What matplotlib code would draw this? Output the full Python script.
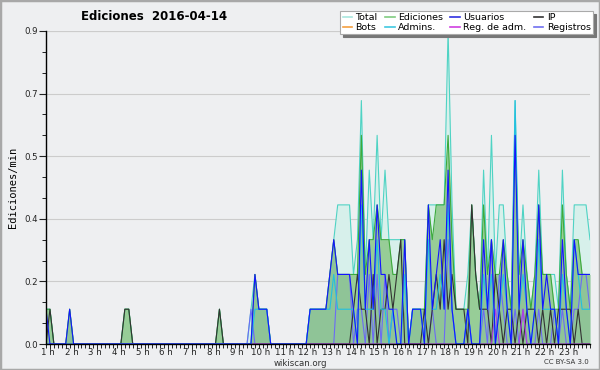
import numpy as np
import matplotlib
matplotlib.use("Agg")
import matplotlib.pyplot as plt
from matplotlib.lines import Line2D
from matplotlib.patches import Rectangle

# edits per 10 minutes, from 1 h to 24 h (one row = 4 hours)
total = [1,1,0,0,0,0, 1,0,0,0,0,0, 0,0,0,0,0,0, 0,0,1,1,0,0,
         0,0,0,0,0,0, 0,0,0,0,0,0, 0,0,0,0,0,0, 0,0,1,0,0,0,
         0,0,0,0,1,2, 1,1,1,0,0,0, 0,0,0,0,0,0, 0,1,1,1,1,1,
         2,3,4,4,4,4, 2,3,7,2,5,3, 6,3,5,3,3,3, 3,3,0,1,1,1,
         1,4,4,4,4,4, 9,4,1,1,1,2, 4,2,1,5,2,6, 2,4,4,2,1,7,
         2,4,2,1,2,5, 2,2,2,2,1,5, 2,1,4,4,4,4, 3]
ediciones = [1,1,0,0,0,0, 1,0,0,0,0,0, 0,0,0,0,0,0, 0,0,1,1,0,0,
             0,0,0,0,0,0, 0,0,0,0,0,0, 0,0,0,0,0,0, 0,0,1,0,0,0,
             0,0,0,0,0,2, 1,1,1,0,0,0, 0,0,0,0,0,0, 0,1,1,1,1,1,
             2,3,2,2,2,2, 2,2,6,2,3,3, 4,3,3,3,2,2, 3,3,0,1,1,1,
             1,4,3,4,4,4, 6,3,1,1,1,1, 4,2,1,4,2,3, 2,2,3,2,1,6,
             2,3,2,1,2,4, 2,2,2,1,1,4, 2,1,3,3,2,2, 2]
usuarios = [1,0,0,0,0,0, 1,0,0,0,0,0, 0,0,0,0,0,0, 0,0,0,0,0,0,
            0,0,0,0,0,0, 0,0,0,0,0,0, 0,0,0,0,0,0, 0,0,0,0,0,0,
            0,0,0,0,0,2, 1,1,1,0,0,0, 0,0,0,0,0,0, 0,1,1,1,1,1,
            2,3,2,2,2,2, 1,0,5,1,3,1, 4,2,2,1,1,0, 0,3,0,1,1,1,
            0,4,1,2,3,1, 5,1,0,0,0,1, 0,0,0,3,1,3, 0,1,3,1,0,6,
            1,3,1,0,1,4, 1,2,1,1,0,3, 1,0,3,2,2,2, 2]
ip = [0,1,0,0,0,0, 0,0,0,0,0,0, 0,0,0,0,0,0, 0,0,1,1,0,0,
      0,0,0,0,0,0, 0,0,0,0,0,0, 0,0,0,0,0,0, 0,0,1,0,0,0,
      0,0,0,0,0,0, 0,0,0,0,0,0, 0,0,0,0,0,0, 0,0,0,0,0,0,
      0,0,0,0,0,0, 1,2,1,1,0,2, 0,1,1,2,1,2, 3,0,0,0,0,0,
      1,0,1,2,1,3, 1,2,1,1,1,0, 4,2,1,1,1,0, 2,1,0,1,1,0,
      1,0,1,1,1,0, 1,0,1,0,1,1, 1,1,0,1,0,0, 0]
bots = [0] * 139
admins = [0,0,0,0,0,0, 0,0,0,0,0,0, 0,0,0,0,0,0, 0,0,0,0,0,0,
          0,0,0,0,0,0, 0,0,0,0,0,0, 0,0,0,0,0,0, 0,0,0,0,0,0,
          0,0,0,0,0,1, 1,1,1,0,0,0, 0,0,0,0,0,0, 0,1,1,1,1,1,
          1,2,1,1,1,1, 1,0,4,1,1,1, 3,1,1,0,1,0, 0,2,0,1,1,1,
          0,3,1,1,2,1, 4,1,0,0,0,1, 0,0,0,2,1,2, 0,1,2,1,0,7,
          1,2,1,0,1,3, 1,1,1,1,0,2, 1,0,3,2,1,1, 1]
reg_adm = [0,0,0,0,0,0, 0,0,0,0,0,0, 0,0,0,0,0,0, 0,0,0,0,0,0,
           0,0,0,0,0,0, 0,0,0,0,0,0, 0,0,0,0,0,0, 0,0,0,0,0,0,
           0,0,0,0,0,0, 0,0,0,0,0,0, 0,0,0,0,0,0, 0,0,0,0,0,0,
           0,0,0,0,0,0, 0,0,0,0,0,0, 0,0,0,0,0,0, 0,0,0,0,0,0,
           0,0,0,0,0,0, 0,0,0,0,0,0, 0,0,0,0,0,0, 1,0,0,0,0,0,
           0,1,0,0,0,0, 0,0,0,0,0,0, 0,0,0,0,0,0, 0]
registros = [0,0,0,0,0,0, 0,0,0,0,0,0, 0,0,0,0,0,0, 0,0,0,0,0,0,
             0,0,0,0,0,0, 0,0,0,0,0,0, 0,0,0,0,0,0, 0,0,0,0,0,0,
             0,0,0,0,1,0, 0,0,0,0,0,0, 0,0,0,0,0,0, 0,0,0,0,0,0,
             0,0,2,2,2,2, 0,1,1,0,2,0, 2,0,2,0,1,1, 0,0,0,0,0,0,
             0,0,1,0,0,0, 3,1,0,0,0,1, 0,0,0,1,0,3, 0,2,1,0,0,1,
             0,1,0,0,0,1, 0,0,0,1,0,1, 0,0,1,1,2,2, 1]

hour_labels = ["%d h" % h for h in range(1, 24)]
title = "Ediciones  2016-04-14"

bg = "#eeeff1"
fig = plt.figure(figsize=(6, 3.7), dpi=100, facecolor=bg)
ax = fig.add_axes([46 / 600, 26 / 370, 544 / 600, 313 / 370], facecolor=bg)

t = 1 + np.arange(len(total)) / 6.0
per_min = lambda s: np.array(s) / 10.0

ax.fill_between(t, per_min(total), color="#d7f0eb", lw=0)
ax.fill_between(t, per_min(ediciones), color="#97cd97", lw=0)
ax.fill_between(t, per_min(usuarios), color="#3050a0", alpha=0.07, lw=0)

series = [(total, "#4fd3c4"), (ediciones, "#3caa3c"), (registros, "#6b6bf5"),
          (ip, "#333333"), (bots, "#f0a030"), (reg_adm, "#b040e0"),
          (admins, "#22c0e0"), (usuarios, "#1414ff")]
for s, c in series:
    ax.plot(t, per_min(s), color=c, lw=0.8)

ax.set_xlim(1, 24)
ax.set_ylim(0, 0.9)
yt = np.linspace(0, 0.9, 6)
ax.set_yticks(yt)
ax.set_yticklabels(["%.1f" % v for v in yt])
ax.set_yticks(np.arange(0, 0.9, 0.06), minor=True)
ax.set_xticks(np.arange(1, 24) + 0.08)
ax.set_xticklabels(hour_labels)
ax.set_xticks(np.arange(1, 24.01, 1 / 6.0), minor=True)
ax.tick_params(axis="both", labelsize=6.2, colors="#222222", width=0.8)
ax.tick_params(axis="y", which="major", length=5, pad=1)
ax.tick_params(axis="y", which="minor", length=3)
ax.tick_params(axis="x", which="major", length=0, pad=3)
ax.tick_params(axis="x", which="minor", length=3)
ax.grid(axis="y", color="#cccccc", lw=0.8)
ax.set_axisbelow(True)
for sp in ["top", "right"]:
    ax.spines[sp].set_visible(False)
for sp in ["left", "bottom"]:
    ax.spines[sp].set_linewidth(1.0)
ax.axhline(0.9, color="#cccccc", lw=0.8, zorder=0)

ax.set_ylabel("Ediciones/min", family="DejaVu Sans Mono", fontsize=7.5, labelpad=4)
fig.text(154 / 600, 1 - 16 / 370, title, ha="center", va="center",
         fontsize=8.5, fontweight="bold")
fig.text(300 / 600, 1 - 363 / 370, "wikiscan.org", ha="center", va="center",
         fontsize=6.2, color="#333333")
fig.text(589 / 600, 1 - 362 / 370, "CC BY-SA 3.0", ha="right", va="center",
         fontsize=5, color="#333333")

handles = [Line2D([], [], color="#a8e6de", lw=1.2), Line2D([], [], color="#f5a040", lw=1.2),
           Line2D([], [], color="#80cc80", lw=1.2), Line2D([], [], color="#40c8e0", lw=1.2),
           Line2D([], [], color="#3030e0", lw=1.2), Line2D([], [], color="#d040e0", lw=1.2),
           Line2D([], [], color="#333333", lw=1.2), Line2D([], [], color="#7070f0", lw=1.2)]
names = ["Total", "Bots", "Ediciones", "Admins.", "Usuarios", "Reg. de adm.", "IP", "Registros"]
leg = fig.legend(handles, names, ncol=4, loc="upper right",
                 bbox_to_anchor=(593 / 600, 1 - 11 / 370), fontsize=6.8,
                 handlelength=1.0, handletextpad=0.35, columnspacing=0.8,
                 labelspacing=0.05, borderpad=0.25, borderaxespad=0,
                 fancybox=False, framealpha=1, edgecolor="#aaaaaa",
                 shadow={"color": "#777777", "alpha": 1})
leg.get_frame().set_linewidth(0.8)

fig.patches.append(Rectangle((0, 0), 1, 1, transform=fig.transFigure, fill=False,
                             edgecolor="#a8a8a8", lw=2.5))

fig.savefig("out.png", dpi=100, facecolor=bg)
